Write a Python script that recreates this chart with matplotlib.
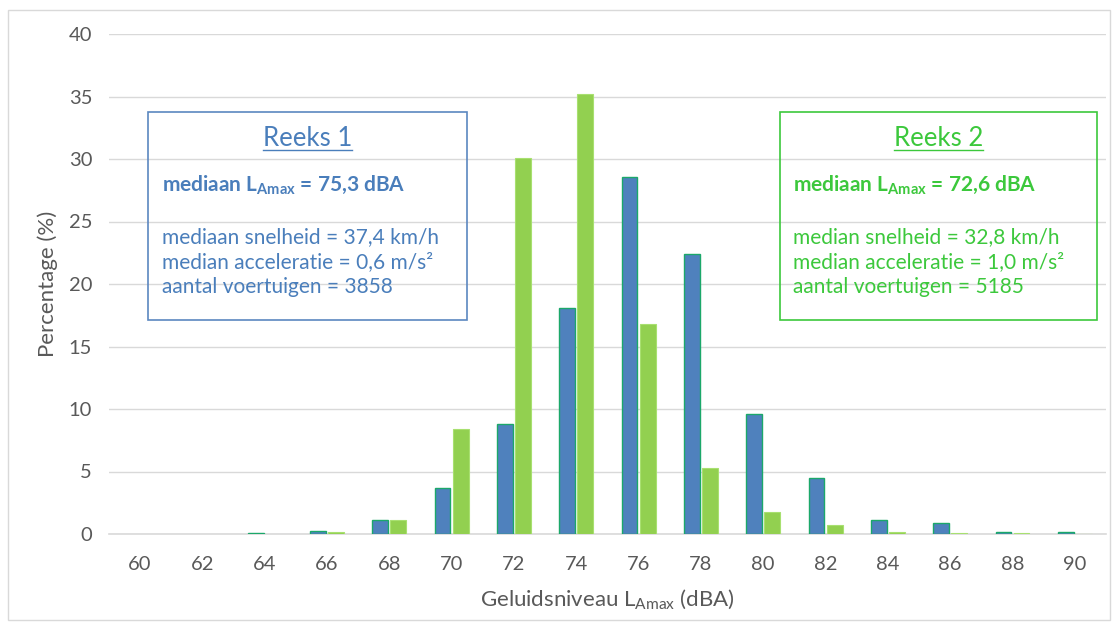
import matplotlib.pyplot as plt
import numpy as np
from matplotlib.patches import Rectangle
from matplotlib.lines import Line2D

plt.rcParams['font.family'] = ['Lato', 'DejaVu Sans']
plt.rcParams['mathtext.fontset'] = 'custom'
plt.rcParams['mathtext.rm'] = 'Lato'
plt.rcParams['mathtext.bf'] = 'Lato:bold'

levels = ['60', '62', '64', '66', '68', '70', '72', '74', '76', '78', '80', '82', '84', '86', '88', '90']
reeks1 = [0.0, 0.0, 0.1, 0.25, 1.1, 3.7, 8.8, 18.1, 28.6, 22.4, 9.6, 4.5, 1.15, 0.9, 0.2, 0.15]
reeks2 = [0.0, 0.0, 0.0, 0.15, 1.1, 8.4, 30.1, 35.2, 16.8, 5.3, 1.8, 0.75, 0.2, 0.08, 0.08, 0.02]

W, H = 1115, 626
fig = plt.figure(figsize=(W / 100, H / 100), dpi=100)
ax = fig.add_axes([108.8 / W, 1 - 534 / H, (1106 - 108.8) / W, 500 / H])

x = np.arange(len(levels))
bw = 0.255
lw1 = [1.0 if v > 0 else 0 for v in reeks1]
lw2 = [0.8 if v > 0 else 0 for v in reeks2]
ax.bar(x - 0.145, reeks1, bw, color='#4F81BD', edgecolor='#1BA86A', linewidth=lw1, zorder=3)
ax.bar(x + 0.145, reeks2, bw, color='#92D050', edgecolor='#A8E070', linewidth=lw2, zorder=3)

ax.set_xlim(-0.5, len(levels) - 0.5)
ax.set_ylim(0, 40)
ax.set_yticks(range(0, 41, 5))
ax.set_xticks(x)
ax.set_xticklabels(levels)
ax.yaxis.grid(True, color='#D9D9D9', linewidth=1.0, zorder=0)
for s in ['top', 'right', 'left']:
    ax.spines[s].set_visible(False)
ax.spines['bottom'].set_color('#D9D9D9')
ax.spines['bottom'].set_linewidth(1.2)
ax.tick_params(axis='both', length=0, labelsize=14.5, labelcolor='#595959')
ax.tick_params(axis='x', pad=16)
ax.tick_params(axis='y', pad=12)
ax.set_xlabel(r'Geluidsniveau L$\mathregular{_{Amax}}$ (dBA)', fontsize=16, color='#595959', labelpad=10)
ax.set_ylabel('Percentage (%)', fontsize=16, color='#595959', labelpad=8)

# outer frame
fig.patches.append(Rectangle((8 / W, 1 - 620 / H), 1102 / W, 610 / H, transform=fig.transFigure,
                             fill=False, edgecolor='#D9D9D9', linewidth=1.0))

def fx(px):
    return px / W

def fy(py):
    return 1 - py / H

blue_txt = '#4A7EBB'
green_txt = '#3CC83C'

boxes = [
    (148, 112, 467, 320, '#5B87C0', blue_txt, 'Reeks 1', '75,3',
     ['mediaan snelheid = 37,4 km/h', 'median acceleratie = 0,6 m/s²', 'aantal voertuigen = 3858'], 162),
    (780, 112, 1097, 320, '#3CC83C', green_txt, 'Reeks 2', '72,6',
     ['median snelheid = 32,8 km/h', 'median acceleratie = 1,0 m/s²', 'aantal voertuigen = 5185'], 793),
]

titles = []
for x0, y0, x1, y1, ec, tc, title, med, lines, tx in boxes:
    fig.patches.append(Rectangle((fx(x0), fy(y1)), (x1 - x0) / W, (y1 - y0) / H,
                                 transform=fig.transFigure, fill=False, edgecolor=ec, linewidth=1.2))
    t = fig.text(fx((x0 + x1) / 2), fy(138), title, ha='center', va='center', fontsize=18.5, color=tc)
    titles.append((t, tc))
    fig.text(fx(tx), fy(185), r'mediaan L$\mathregular{_{Amax}}$ = ' + med + ' dBA', ha='left', va='center',
             fontsize=15, color=tc, fontweight='bold')
    for i, ln in enumerate(lines):
        fig.text(fx(tx), fy(237 + 25 * i), ln, ha='left', va='center', fontsize=15, color=tc)

fig.canvas.draw()
r = fig.canvas.get_renderer()
for t, tc in titles:
    bb = t.get_window_extent(r)
    yl = bb.y0 + 1
    fig.lines.append(Line2D([bb.x0 / W, bb.x1 / W], [yl / H, yl / H], transform=fig.transFigure,
                            color=tc, linewidth=1.0))

fig.savefig('out.png', dpi=100)
